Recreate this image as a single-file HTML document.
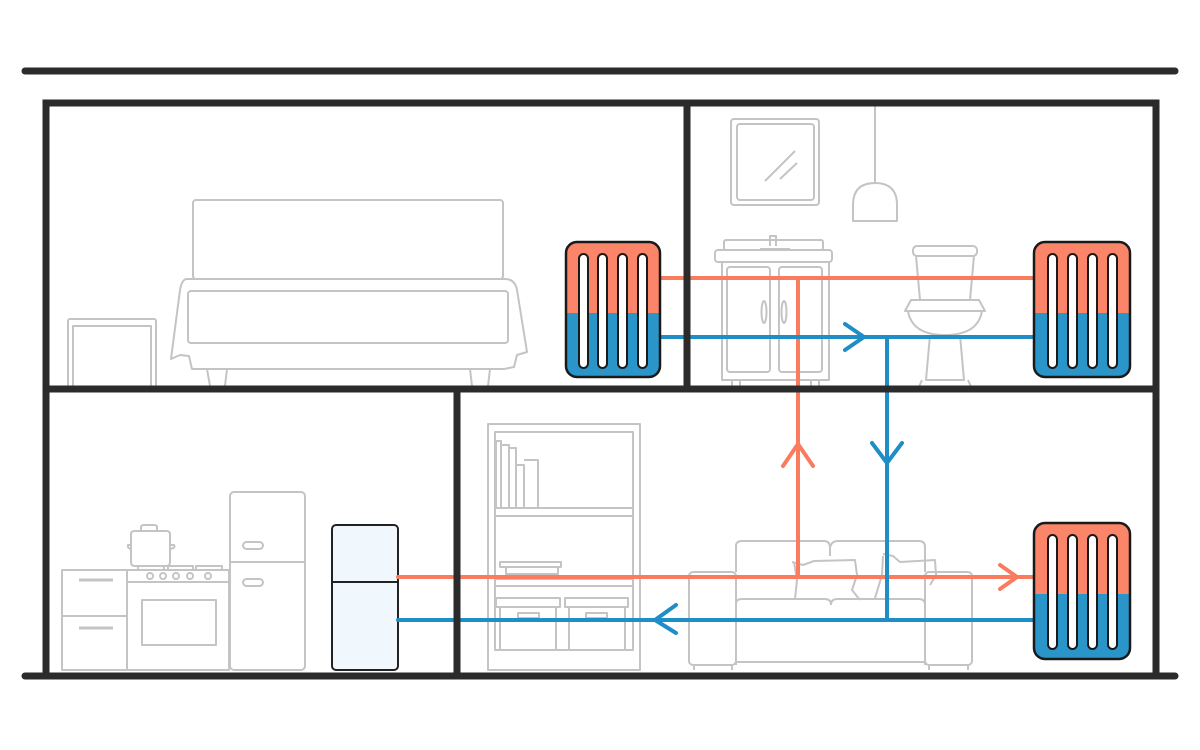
<!DOCTYPE html>
<html><head><meta charset="utf-8"><style>html,body{margin:0;padding:0;background:#fff}svg{display:block}</style></head>
<body>
<svg width="1200" height="750" viewBox="0 0 1200 750" xmlns="http://www.w3.org/2000/svg">
<rect width="1200" height="750" fill="#fff"/>
<!-- furniture grey -->
<g fill="none" stroke="#c4c4c4" stroke-width="2" stroke-linejoin="round">
  <!-- bedroom -->
  <rect x="68" y="319" width="88" height="72" rx="2"/>
  <rect x="73" y="326" width="78" height="65"/>
  <rect x="193" y="200" width="310" height="79" rx="3"/>
  <path d="M187 279 L505 279 Q515 279 517 290 L527 352 L517 355 L514 367 L504 369 L192 369 L189 356 L180 355 L171 359 L180 290 Q182 279 187 279 Z"/>
  <rect x="188" y="291" width="320" height="52" rx="3"/>
  <path d="M207 369 L210 386 M227 369 L225 386 M470 369 L472 386 M490 369 L488 386"/>
  <!-- bathroom -->
  <rect x="731" y="119" width="88" height="86" rx="3"/>
  <rect x="737" y="124" width="77" height="76" rx="3"/>
  <path d="M765 181 L795 151 M780 179 L797 163"/>
  <path d="M875 105 L875 183"/>
  <path d="M853 221 L853 205 Q853 183 875 183 Q897 183 897 205 L897 221 Z"/>
  <rect x="724" y="240" width="99" height="10" rx="2"/>
  <rect x="715" y="250" width="117" height="12" rx="3"/>
  <path d="M770 246 L770 236 L776 236 L776 246 M760 249 L790 249"/>
  <rect x="722" y="262" width="107" height="118"/>
  <rect x="727" y="267" width="43" height="105" rx="3"/>
  <rect x="779" y="267" width="43" height="105" rx="3"/>
  <ellipse cx="764" cy="312" rx="2.5" ry="11"/>
  <ellipse cx="784" cy="312" rx="2.5" ry="11"/>
  <path d="M732 380 L732 389 M740 380 L740 389 M811 380 L811 389 M819 380 L819 389"/>
  <rect x="913" y="246" width="64" height="10" rx="4"/>
  <path d="M916 256 L920 300 L970 300 L974 256"/>
  <path d="M911 300 L979 300 L985 311 L905 311 Z"/>
  <path d="M908 311 Q912 335 945 335 Q978 335 982 311"/>
  <path d="M930 335 L926 380 L964 380 L960 335 M922 380 L918 389 M968 380 L972 389"/>
  <!-- kitchen -->
  <rect x="62" y="570" width="65" height="100"/>
  <path d="M62 616 L127 616"/>
  <path d="M79 580 L113 580 M79 628 L113 628" stroke-width="3"/>
  <rect x="127" y="570" width="102" height="12"/>
  <rect x="127" y="582" width="102" height="88"/>
  <rect x="142" y="600" width="74" height="45"/>
  <circle cx="150" cy="576" r="3"/><circle cx="163" cy="576" r="3"/><circle cx="176" cy="576" r="3"/><circle cx="190" cy="576" r="3"/><circle cx="208" cy="576" r="3"/>
  <path d="M138 570 L138 566 L164 566 L164 570 M168 570 L168 566 L193 566 L193 570 M196 570 L196 566 L222 566 L222 570"/>
  <path d="M131 534 L131 562 Q131 566 135 566 L166 566 Q170 566 170 562 L170 534 Q170 531 166 531 L135 531 Q131 531 131 534 Z"/>
  <path d="M141 531 L141 527 Q141 525 144 525 L154 525 Q157 525 157 527 L157 531"/>
  <path d="M131 545 L128 545 Q127 548 131 549 M170 545 L174 545 Q176 548 170 549"/>
  <rect x="230" y="492" width="75" height="178" rx="4"/>
  <path d="M230 562 L305 562"/>
  <rect x="243" y="542" width="20" height="7" rx="3.5"/>
  <rect x="243" y="579" width="20" height="7" rx="3.5"/>
  <!-- living -->
  <rect x="488" y="424" width="152" height="246"/>
  <rect x="495" y="432" width="138" height="218"/>
  <path d="M495 508 L633 508 M495 516 L633 516 M495 579 L633 579 M495 586 L633 586"/>
  <path d="M496 508 L496 441 L501 441 L501 508 M501 445 L509 445 L509 508 M509 448 L516 448 L516 508 M516 465 L524 465 L524 508 M524 460 L538 460 L538 508"/>
  <rect x="500" y="562" width="61" height="5"/>
  <rect x="506" y="567" width="52" height="7"/>
  <rect x="496" y="598" width="64" height="9"/>
  <rect x="565" y="598" width="63" height="9"/>
  <path d="M500 607 L500 650 M556 607 L556 650 M569 607 L569 650 M625 607 L625 650"/>
  <rect x="518" y="613" width="21" height="5"/><rect x="586" y="613" width="21" height="5"/>
  <path d="M736 572 L736 546 Q736 541 742 541 L824 541 Q830 541 830 548 L830 556 M830 548 Q831 541 838 541 L919 541 Q925 541 925 547 L925 572"/>
  <rect x="689" y="572" width="47" height="93" rx="4"/>
  <rect x="925" y="572" width="47" height="93" rx="4"/>
  <path d="M736 665 L736 604 Q736 599 742 599 L825 599 Q831 599 831 605 M831 605 Q831 599 837 599 L919 599 Q925 599 925 605 L925 665"/>
  <path d="M736 662 L925 662 M694 665 L694 670 M732 665 L732 670 M929 665 L929 670 M968 665 L968 670"/>
  <path d="M792 562 L803 565 L814 561 L855 560 L857 575 L852 590 L860 600 M794 562 L797 580 L795 599"/>
  <path d="M883 554 L893 556 L900 562 L935 560 L936 575 L930 585 M883 556 L882 575 L875 598"/>
</g>
<!-- boiler -->
<rect x="332" y="525" width="66" height="145" rx="4" fill="#f0f8fd" stroke="#222" stroke-width="2"/>
<path d="M332 582 L398 582" stroke="#222" stroke-width="2"/>
<!-- pipes -->
<g fill="none" stroke-width="4" stroke-linecap="round" stroke-linejoin="round">
  <path d="M660 278 L1034 278 M798 278 L798 577 M398 577 L1034 577" stroke="#f97c5f"/>
  <path d="M660 337 L1034 337 M887 337 L887 620 M398 620 L1034 620" stroke="#1f8dc6"/>
  <path d="M783 466 L798 444 L813 466 M1000 565 L1017 577 L1000 589" stroke="#f97c5f"/>
  <path d="M845 324 L864 337 L845 350 M872 443 L887 463 L902 443 M676 605 L655 620 L676 633" stroke="#1f8dc6"/>
</g>
<!-- radiators -->
<defs>
  <clipPath id="c1"><rect x="566" y="242" width="94" height="135" rx="11"/></clipPath>
  <clipPath id="c2"><rect x="1034" y="242" width="96" height="135" rx="11"/></clipPath>
  <clipPath id="c3"><rect x="1034" y="523" width="96" height="136" rx="11"/></clipPath>
</defs>
<g clip-path="url(#c1)"><rect x="560" y="240" width="110" height="73" fill="#fb8568"/><rect x="560" y="313" width="110" height="70" fill="#2a95c9"/></g>
<rect x="566" y="242" width="94" height="135" rx="11" fill="none" stroke="#1a1a1a" stroke-width="2.5"/>
<g fill="#fff" stroke="#1a1a1a" stroke-width="2">
  <rect x="579" y="254" width="9" height="114" rx="4.5"/><rect x="598" y="254" width="9" height="114" rx="4.5"/><rect x="618" y="254" width="9" height="114" rx="4.5"/><rect x="638" y="254" width="9" height="114" rx="4.5"/>
</g>
<g clip-path="url(#c2)"><rect x="1030" y="240" width="110" height="73" fill="#fb8568"/><rect x="1030" y="313" width="110" height="70" fill="#2a95c9"/></g>
<rect x="1034" y="242" width="96" height="135" rx="11" fill="none" stroke="#1a1a1a" stroke-width="2.5"/>
<g fill="#fff" stroke="#1a1a1a" stroke-width="2">
  <rect x="1048" y="254" width="9" height="114" rx="4.5"/><rect x="1068" y="254" width="9" height="114" rx="4.5"/><rect x="1088" y="254" width="9" height="114" rx="4.5"/><rect x="1108" y="254" width="9" height="114" rx="4.5"/>
</g>
<g clip-path="url(#c3)"><rect x="1030" y="520" width="110" height="74" fill="#fb8568"/><rect x="1030" y="594" width="110" height="70" fill="#2a95c9"/></g>
<rect x="1034" y="523" width="96" height="136" rx="11" fill="none" stroke="#1a1a1a" stroke-width="2.5"/>
<g fill="#fff" stroke="#1a1a1a" stroke-width="2">
  <rect x="1048" y="535" width="9" height="114" rx="4.5"/><rect x="1068" y="535" width="9" height="114" rx="4.5"/><rect x="1088" y="535" width="9" height="114" rx="4.5"/><rect x="1108" y="535" width="9" height="114" rx="4.5"/>
</g>
<!-- structure -->
<g stroke="#2b2b2b" stroke-width="7" stroke-linecap="round" fill="none">
  <path d="M25 71 L1175 71"/>
  <path d="M46 676 L46 103 L1156 103 L1156 676"/>
  <path d="M46 389 L1156 389 M687 103 L687 389 M457 389 L457 676"/>
  <path d="M25 676 L1175 676"/>
</g>
</svg>
</body></html>
